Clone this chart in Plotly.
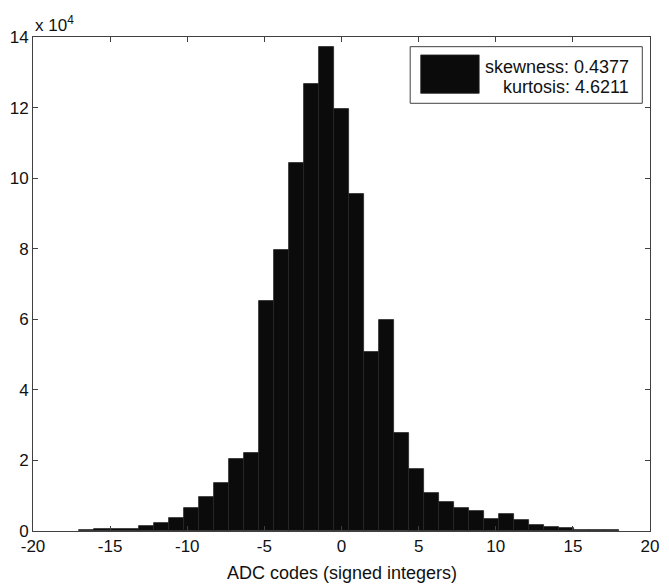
import plotly.graph_objects as go

# Histogram of signed ADC codes: 36 equal-width bins spanning [-17, 18]
bin_low = -17.0
bin_high = 18.0
counts = [
    400, 450, 500, 700, 1300, 2200, 3800, 6600, 9500, 13600,
    20400, 22200, 65300, 79500, 104200, 126600, 137300, 119700, 95600, 50800,
    59700, 27700, 17700, 10900, 8300, 6400, 5800, 3400, 4700, 3000,
    1800, 1200, 800, 400, 350, 300,
]
n_bins = len(counts)
bin_width = (bin_high - bin_low) / n_bins
bin_centers = [bin_low + (i + 0.5) * bin_width for i in range(n_bins)]

x_ticks = [-20, -15, -10, -5, 0, 5, 10, 15, 20]
x_tick_text = ["-20", "-15", "-10", "-5", "0", "5", "10", "15", "20"]
y_ticks = [0, 20000, 40000, 60000, 80000, 100000, 120000, 140000]
y_tick_text = ["0", "2", "4", "6", "8", "10", "12", "14"]

stats_lines = ["skewness: 0.4377", "kurtosis: 4.6211"]
x_title = "ADC codes (signed integers)"

font_family = "Liberation Sans, Arial, Helvetica, sans-serif"
text_color = "#111111"
axis_color = "#404040"
bar_color = "#0b0b0b"

fig = go.Figure()
fig.add_trace(go.Bar(
    x=bin_centers,
    y=counts,
    width=bin_width,
    marker=dict(color=bar_color, line=dict(color="#262626", width=0.8)),
    showlegend=False,
    hoverinfo="x+y",
))

axis_common = dict(
    showline=True, linecolor=axis_color, linewidth=1, mirror="ticks",
    ticks="inside", ticklen=5, tickwidth=1, tickcolor=axis_color,
    showgrid=False, zeroline=False,
    tickfont=dict(family=font_family, size=17, color=text_color),
)

fig.update_xaxes(range=[-20, 20], tickvals=x_ticks, ticktext=x_tick_text,
                 **axis_common)
fig.update_yaxes(range=[0, 140000], tickvals=y_ticks, ticktext=y_tick_text,
                 **axis_common)

# X-axis caption
fig.add_annotation(text=x_title, xref="paper", yref="paper",
                   x=0.5, y=0.0, xanchor="center", yanchor="middle",
                   yshift=-42, showarrow=False,
                   font=dict(family=font_family, size=18, color=text_color))

# Legend panel drawn with shapes and right-aligned text
fig.add_shape(type="rect", xref="paper", yref="paper",
              x0=0.6113, x1=0.9875, y0=0.8658, y1=0.9804,
              line=dict(color=axis_color, width=1), fillcolor="white")
fig.add_shape(type="rect", xref="paper", yref="paper",
              x0=0.6284, x1=0.7231, y0=0.886, y1=0.9636,
              line=dict(color="#262626", width=0.8), fillcolor=bar_color)
for line_text, ypos in zip(stats_lines, [0.940, 0.898]):
    fig.add_annotation(text=line_text, xref="paper", yref="paper",
                       x=0.9689, y=ypos, xanchor="right", yanchor="middle",
                       showarrow=False,
                       font=dict(family=font_family, size=18, color=text_color))

# Axis multiplier
fig.add_annotation(text="x 10<sup>4</sup>", xref="paper", yref="paper",
                   x=0.0, y=1.0, xanchor="left", yanchor="bottom", yshift=0,
                   showarrow=False,
                   font=dict(family=font_family, size=17, color=text_color))

fig.update_layout(
    width=669, height=584,
    margin=dict(l=33, r=9.5, t=37, b=53),
    paper_bgcolor="white", plot_bgcolor="white",
    bargap=0,
)

fig.write_html("out.html")
